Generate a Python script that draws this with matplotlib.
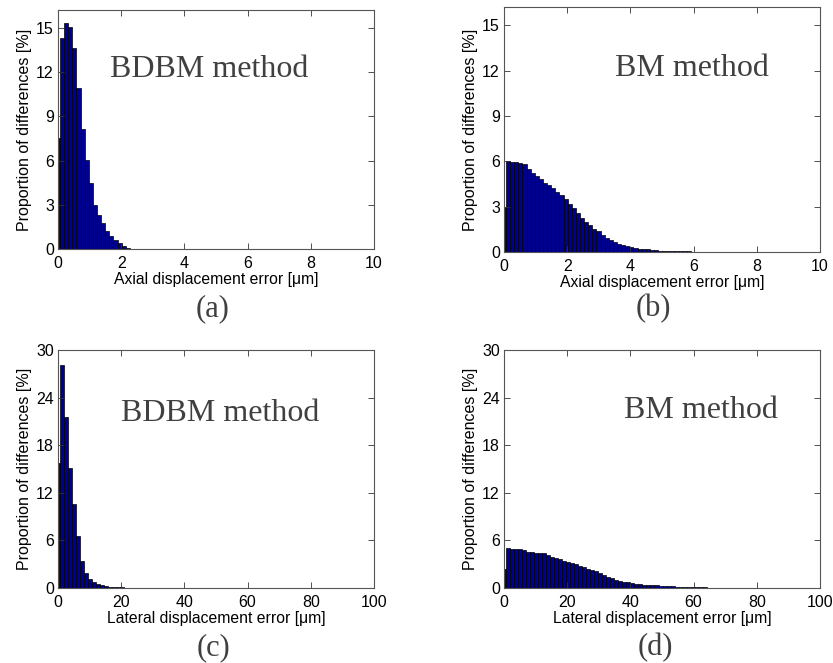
import numpy as np
import matplotlib
matplotlib.use("Agg")
import matplotlib.pyplot as plt

plt.rcParams['font.family'] = ['Liberation Sans', 'DejaVu Sans']

# histogram bin widths (bins centred on 0, w, 2w, ...)
axial_bin = 0.13
lateral_bin = 1.27

# (a) axial error, BDBM method [%]
axial_bdbm = [7.5, 14.35, 15.35, 15.1, 13.65, 10.9, 8.15, 6.05, 4.5, 2.97,
              2.3, 1.75, 1.2, 0.85, 0.6, 0.42, 0.18, 0.04]

# (b) axial error, BM method [%]
axial_bm = [3.0, 6.0, 5.95, 5.98, 5.87, 5.85, 5.5, 5.2, 5.03, 4.82,
            4.6, 4.46, 4.22, 4.0, 3.75, 3.5, 3.2, 2.9, 2.55, 2.25,
            2.0, 1.77, 1.55, 1.4, 1.13, 0.95, 0.82, 0.67, 0.56, 0.49,
            0.4, 0.33, 0.29, 0.22, 0.18, 0.18, 0.13, 0.13, 0.09, 0.09,
            0.09, 0.09, 0.05, 0.05, 0.05, 0.05, 0.03, 0.03, 0.03, 0.03,
            0.02]

# (c) lateral error, BDBM method [%]
lateral_bdbm = [15.8, 28.1, 21.5, 15.1, 10.6, 6.5, 3.4, 1.9, 1.15, 0.75,
                0.5, 0.33, 0.22, 0.15, 0.12, 0.1, 0.08, 0.06, 0.05, 0.04,
                0.03, 0.03]

# (d) lateral error, BM method [%]
lateral_bm = [2.4, 5.03, 4.96, 4.92, 4.92, 4.83, 4.58, 4.5, 4.45, 4.41,
              4.37, 4.16, 3.95, 3.78, 3.61, 3.44, 3.3, 3.15, 2.98, 2.8,
              2.62, 2.45, 2.3, 2.1, 1.85, 1.62, 1.42, 1.24, 1.07, 0.93,
              0.81, 0.72, 0.63, 0.56, 0.5, 0.43, 0.38, 0.34, 0.34, 0.29,
              0.25, 0.29, 0.21, 0.17, 0.13, 0.13, 0.13, 0.13, 0.08, 0.08,
              0.08] + [0.04] * 12 + [0.03] * 11

axial_ticks = [0, 2, 4, 6, 8, 10]
lateral_ticks = [0, 20, 40, 60, 80, 100]
axial_yticks = [0, 3, 6, 9, 12, 15]
lateral_yticks = [0, 6, 12, 18, 24, 30]

W, H = 833, 663
fig = plt.figure(figsize=(W / 100, H / 100), dpi=100)


def px_axes(l, t, r, b):
    return fig.add_axes([l / W, 1 - b / H, (r - l) / W, (b - t) / H])


panels = [
    # box (left, top, right, bottom in px), data, bin, xlim, ylim, xticks, yticks, xlabel, method, text pos, tag, tag pos
    ((58, 10, 374, 249), axial_bdbm, axial_bin, 10, 16.22, axial_ticks, axial_yticks,
     'Axial displacement error [\u03bcm]', 'BDBM method', (0.165, 0.72), '(a)', (213, 309)),
    ((504, 7, 820, 252), axial_bm, axial_bin, 10, 16.22, axial_ticks, axial_yticks,
     'Axial displacement error [\u03bcm]', 'BM method', (0.35, 0.717), '(b)', (653, 309)),
    ((58, 350, 374, 588), lateral_bdbm, lateral_bin, 100, 30, lateral_ticks, lateral_yticks,
     'Lateral displacement error [\u03bcm]', 'BDBM method', (0.2, 0.70), '(c)', (213, 648)),
    ((504, 350, 820, 588), lateral_bm, lateral_bin, 100, 30, lateral_ticks, lateral_yticks,
     'Lateral displacement error [\u03bcm]', 'BM method', (0.38, 0.713), '(d)', (655, 648)),
]

for box, vals, w, xmax, ymax, xt, yt, xlab, method, tpos, tag, tagpos in panels:
    ax = px_axes(*box)
    centers = np.arange(len(vals)) * w
    ax.bar(centers, vals, width=w, align='center', color='#00008f',
           edgecolor='black', linewidth=0.5)
    ax.set_xlim(0, xmax)
    ax.set_ylim(0, ymax)
    ax.set_xticks(xt)
    ax.set_yticks(yt)
    ax.tick_params(direction='in', top=True, right=True, length=4, width=0.6,
                   labelsize=11.5, color='#333333', pad=3)
    ax.tick_params(axis='x', pad=5)
    for s in ax.spines.values():
        s.set_color('#555555')
        s.set_linewidth(0.8)
    ax.set_xlabel(xlab, fontsize=11.3, labelpad=1)
    ax.set_ylabel('Proportion of differences [%]', fontsize=11.5, labelpad=3)
    ax.text(tpos[0], tpos[1], method, transform=ax.transAxes, family='Liberation Serif',
            fontsize=23, color='#404040', ha='left', va='baseline')
    fig.text(tagpos[0] / W, 1 - tagpos[1] / H, tag, family='Liberation Serif',
             fontsize=22, color='#404040', ha='center', va='center')

fig.savefig('out.png', dpi=100)
